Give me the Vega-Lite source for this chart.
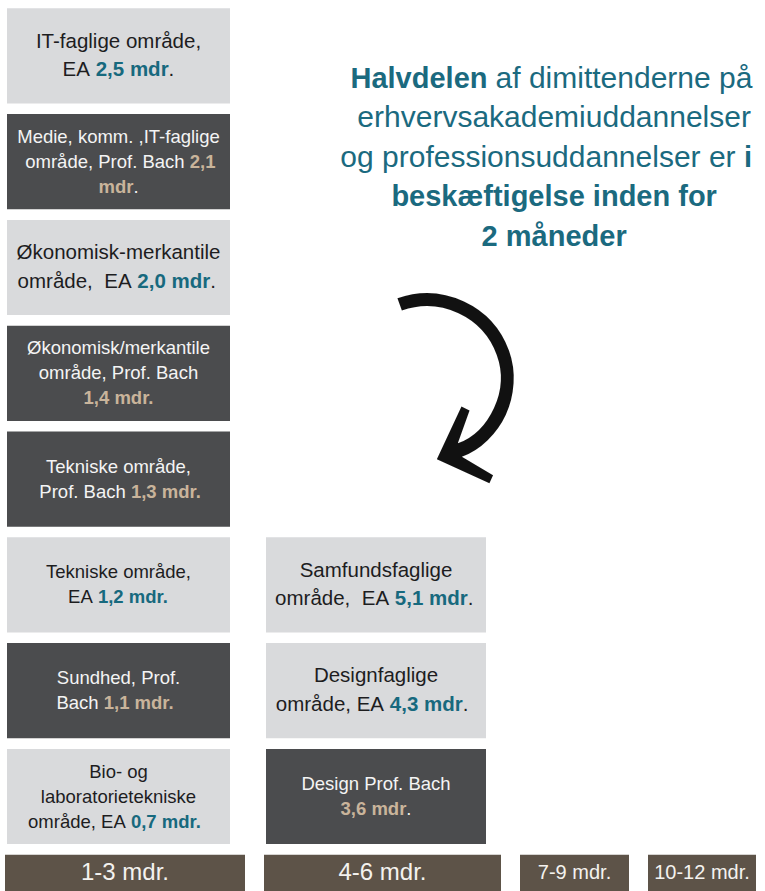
{
  "$schema": "https://vega.github.io/schema/vega-lite/v6.json",
  "width": 765,
  "height": 891,
  "autosize": {"type": "none"},
  "padding": 0,
  "background": "#ffffff",
  "config": {"view": {"stroke": null}, "font": "Liberation Sans", "text": {"font": "Liberation Sans"}},
  "datasets": {
    "lines": [
      {"id": "it_ea", "bin_start": 0, "bin_end": 3, "value": 2.5, "type": "EA", "k": 0, "n": 2, "pre": "IT-faglige område,", "num": "", "post": ""},
      {"id": "it_ea", "bin_start": 0, "bin_end": 3, "value": 2.5, "type": "EA", "k": 1, "n": 2, "pre": "EA", "num": "2,5 mdr", "post": "."},
      {"id": "medie_pb", "bin_start": 0, "bin_end": 3, "value": 2.1, "type": "Prof. Bach", "k": 0, "n": 3, "pre": "Medie, komm. ,IT-faglige", "num": "", "post": ""},
      {"id": "medie_pb", "bin_start": 0, "bin_end": 3, "value": 2.1, "type": "Prof. Bach", "k": 1, "n": 3, "pre": "område, Prof. Bach", "num": "2,1", "post": ""},
      {"id": "medie_pb", "bin_start": 0, "bin_end": 3, "value": 2.1, "type": "Prof. Bach", "k": 2, "n": 3, "pre": "", "num": "mdr", "post": "."},
      {"id": "oek_ea", "bin_start": 0, "bin_end": 3, "value": 2.0, "type": "EA", "k": 0, "n": 2, "pre": "Økonomisk-merkantile", "num": "", "post": ""},
      {"id": "oek_ea", "bin_start": 0, "bin_end": 3, "value": 2.0, "type": "EA", "k": 1, "n": 2, "pre": "område,\u00a0 EA", "num": "2,0 mdr", "post": "."},
      {"id": "oek_pb", "bin_start": 0, "bin_end": 3, "value": 1.4, "type": "Prof. Bach", "k": 0, "n": 3, "pre": "Økonomisk/merkantile", "num": "", "post": ""},
      {"id": "oek_pb", "bin_start": 0, "bin_end": 3, "value": 1.4, "type": "Prof. Bach", "k": 1, "n": 3, "pre": "område, Prof. Bach", "num": "", "post": ""},
      {"id": "oek_pb", "bin_start": 0, "bin_end": 3, "value": 1.4, "type": "Prof. Bach", "k": 2, "n": 3, "pre": "", "num": "1,4 mdr.", "post": ""},
      {"id": "tek_pb", "bin_start": 0, "bin_end": 3, "value": 1.3, "type": "Prof. Bach", "k": 0, "n": 2, "pre": "Tekniske område,", "num": "", "post": ""},
      {"id": "tek_pb", "bin_start": 0, "bin_end": 3, "value": 1.3, "type": "Prof. Bach", "k": 1, "n": 2, "pre": "Prof. Bach", "num": "1,3 mdr.", "post": ""},
      {"id": "tek_ea", "bin_start": 0, "bin_end": 3, "value": 1.2, "type": "EA", "k": 0, "n": 2, "pre": "Tekniske område,", "num": "", "post": ""},
      {"id": "tek_ea", "bin_start": 0, "bin_end": 3, "value": 1.2, "type": "EA", "k": 1, "n": 2, "pre": "EA", "num": "1,2 mdr.", "post": ""},
      {"id": "sund_pb", "bin_start": 0, "bin_end": 3, "value": 1.1, "type": "Prof. Bach", "k": 0, "n": 2, "pre": "Sundhed, Prof.", "num": "", "post": ""},
      {"id": "sund_pb", "bin_start": 0, "bin_end": 3, "value": 1.1, "type": "Prof. Bach", "k": 1, "n": 2, "pre": "Bach", "num": "1,1 mdr.", "post": ""},
      {"id": "bio_ea", "bin_start": 0, "bin_end": 3, "value": 0.7, "type": "EA", "k": 0, "n": 3, "pre": "Bio- og", "num": "", "post": ""},
      {"id": "bio_ea", "bin_start": 0, "bin_end": 3, "value": 0.7, "type": "EA", "k": 1, "n": 3, "pre": "laboratorietekniske", "num": "", "post": ""},
      {"id": "bio_ea", "bin_start": 0, "bin_end": 3, "value": 0.7, "type": "EA", "k": 2, "n": 3, "pre": "område, EA", "num": "0,7 mdr.", "post": ""},
      {"id": "samf_ea", "bin_start": 3, "bin_end": 6, "value": 5.1, "type": "EA", "k": 0, "n": 2, "pre": "Samfundsfaglige", "num": "", "post": ""},
      {"id": "samf_ea", "bin_start": 3, "bin_end": 6, "value": 5.1, "type": "EA", "k": 1, "n": 2, "pre": "område,\u00a0 EA", "num": "5,1 mdr", "post": "."},
      {"id": "design_ea", "bin_start": 3, "bin_end": 6, "value": 4.3, "type": "EA", "k": 0, "n": 2, "pre": "Designfaglige", "num": "", "post": ""},
      {"id": "design_ea", "bin_start": 3, "bin_end": 6, "value": 4.3, "type": "EA", "k": 1, "n": 2, "pre": "område, EA", "num": "4,3 mdr", "post": "."},
      {"id": "design_pb", "bin_start": 3, "bin_end": 6, "value": 3.6, "type": "Prof. Bach", "k": 0, "n": 2, "pre": "Design Prof. Bach", "num": "", "post": ""},
      {"id": "design_pb", "bin_start": 3, "bin_end": 6, "value": 3.6, "type": "Prof. Bach", "k": 1, "n": 2, "pre": "", "num": "3,6 mdr", "post": "."}
    ],
    "bins": [
      {"label": "1-3 mdr.", "bin_start": 0, "bin_end": 3},
      {"label": "4-6 mdr.", "bin_start": 3, "bin_end": 6},
      {"label": "7-9 mdr.", "bin_start": 6, "bin_end": 9},
      {"label": "10-12 mdr.", "bin_start": 9, "bin_end": 12}
    ],
    "headline": [
      {"k": 0, "pre": "", "num": "Halvdelen", "post": "af dimittenderne på"},
      {"k": 1, "pre": "erhvervsakademiuddannelser", "num": "", "post": ""},
      {"k": 2, "pre": "og professionsuddannelser er", "num": "i", "post": ""},
      {"k": 3, "pre": "", "num": "beskæftigelse inden for", "post": ""},
      {"k": 4, "pre": "", "num": "2 måneder", "post": ""}
    ]
  },
  "layer": [
    {
      "data": {"name": "lines"},
      "transform": [
        {"filter": "datum.k == 0"},
        {"window": [{"op": "dense_rank", "as": "rank"}], "groupby": ["bin_start"], "sort": [{"field": "value", "order": "ascending"}]}
      ],
      "mark": {"type": "rect", "xOffset": 2, "x2Offset": -34},
      "encoding": {
        "x": {"field": "bin_start", "type": "quantitative", "axis": null,
              "scale": {"domain": [0, 3, 6, 9, 12], "range": [5, 264, 520, 648, 775], "nice": false, "zero": false}},
        "x2": {"field": "bin_end"},
        "y": {"field": "rank", "type": "ordinal", "axis": null,
              "scale": {"type": "band", "domain": [8, 7, 6, 5, 4, 3, 2, 1, 0], "range": [3, 955.2], "paddingInner": 0.1, "paddingOuter": 0.05}},
        "fill": {"condition": {"test": "datum.type == 'EA'", "value": "#d9dadc"}, "value": "#4b4c4e"}
      }
    },
    {
      "data": {"name": "bins"},
      "mark": {"type": "rect", "x2Offset": -19, "clip": true, "color": "#5d5348"},
      "encoding": {
        "x": {"field": "bin_start", "type": "quantitative"},
        "x2": {"field": "bin_end"},
        "y": {"datum": 0, "type": "ordinal"}
      }
    },
    {
      "data": {"name": "bins"},
      "mark": {"type": "text", "align": "center", "baseline": "middle", "color": "#f4f2ef",
               "dx": {"expr": "(scale('x', datum.bin_end) - scale('x', datum.bin_start)) / 2 - 9.5"}},
      "encoding": {
        "x": {"field": "bin_start", "type": "quantitative"},
        "y": {"datum": 0, "type": "ordinal", "bandPosition": 0.19},
        "text": {"field": "label"},
        "size": {"condition": {"test": "datum.bin_start < 6", "value": 24}, "value": 20}
      }
    },
    {
      "data": {"name": "lines"},
      "transform": [
        {"window": [{"op": "dense_rank", "as": "rank"}], "groupby": ["bin_start"], "sort": [{"field": "value", "order": "ascending"}]},
        {"filter": "length(datum.pre) > 0"}
      ],
      "mark": {"type": "text", "baseline": "middle",
               "align": {"expr": "length(datum.num) == 0 && length(datum.post) == 0 ? 'center' : 'right'"},
               "dx": {"expr": "(scale('x', datum.bin_end) - scale('x', datum.bin_start)) / 2 - 16 + (length(datum.num) == 0 && length(datum.post) == 0 ? 0 : (indexof(['it_ea','oek_ea','samf_ea','design_ea'], datum.id) >= 0 ? 20.5 : 18.5) * ((0.49 * length(datum.pre) + (datum.pre == 'EA' ? 0.35 : 0)) - (length(datum.pre) > 0 && length(datum.num) > 0 ? 0.28 : 0) - ((indexof(datum.num, ',') >= 0 ? 1.39 : 0) + (indexof(datum.num, 'mdr') >= 0 ? 1.889 : 0) + (indexof(datum.num, ' ') >= 0 ? 0.278 : 0) + (indexof(datum.num, '.') >= 0 ? 0.278 : 0)) - 0.278 * length(datum.post)) / 2)"},
               "dy": {"expr": "(datum.k - (datum.n - 1) / 2) * (indexof(['it_ea','oek_ea','samf_ea','design_ea'], datum.id) >= 0 ? 28.5 : 25)"}},
      "encoding": {
        "x": {"field": "bin_start", "type": "quantitative"},
        "y": {"field": "rank", "type": "ordinal"},
        "text": {"field": "pre"},
        "size": {"condition": {"test": "indexof(['it_ea','oek_ea','samf_ea','design_ea'], datum.id) >= 0", "value": 20.5}, "value": 18.5},
        "color": {"condition": {"test": "datum.type == 'EA'", "value": "#1d1d1f"}, "value": "#f4f4f4"}
      }
    },
    {
      "data": {"name": "lines"},
      "transform": [
        {"window": [{"op": "dense_rank", "as": "rank"}], "groupby": ["bin_start"], "sort": [{"field": "value", "order": "ascending"}]},
        {"filter": "length(datum.num) > 0"}
      ],
      "mark": {"type": "text", "baseline": "middle", "fontWeight": "bold",
               "align": {"expr": "length(datum.pre) == 0 && length(datum.post) == 0 ? 'center' : 'left'"},
               "dx": {"expr": "(scale('x', datum.bin_end) - scale('x', datum.bin_start)) / 2 - 16 + (length(datum.pre) == 0 && length(datum.post) == 0 ? 0 : (indexof(['it_ea','oek_ea','samf_ea','design_ea'], datum.id) >= 0 ? 20.5 : 18.5) * ((0.49 * length(datum.pre) + (datum.pre == 'EA' ? 0.35 : 0)) + (length(datum.pre) > 0 && length(datum.num) > 0 ? 0.28 : 0) - ((indexof(datum.num, ',') >= 0 ? 1.39 : 0) + (indexof(datum.num, 'mdr') >= 0 ? 1.889 : 0) + (indexof(datum.num, ' ') >= 0 ? 0.278 : 0) + (indexof(datum.num, '.') >= 0 ? 0.278 : 0)) - 0.278 * length(datum.post)) / 2)"},
               "dy": {"expr": "(datum.k - (datum.n - 1) / 2) * (indexof(['it_ea','oek_ea','samf_ea','design_ea'], datum.id) >= 0 ? 28.5 : 25)"}},
      "encoding": {
        "x": {"field": "bin_start", "type": "quantitative"},
        "y": {"field": "rank", "type": "ordinal"},
        "text": {"field": "num"},
        "size": {"condition": {"test": "indexof(['it_ea','oek_ea','samf_ea','design_ea'], datum.id) >= 0", "value": 20.5}, "value": 18.5},
        "color": {"condition": {"test": "datum.type == 'EA'", "value": "#17697e"}, "value": "#c9b49b"}
      }
    },
    {
      "data": {"name": "lines"},
      "transform": [
        {"window": [{"op": "dense_rank", "as": "rank"}], "groupby": ["bin_start"], "sort": [{"field": "value", "order": "ascending"}]},
        {"filter": "length(datum.post) > 0"}
      ],
      "mark": {"type": "text", "align": "left", "baseline": "middle",
               "dx": {"expr": "(scale('x', datum.bin_end) - scale('x', datum.bin_start)) / 2 - 16 + (indexof(['it_ea','oek_ea','samf_ea','design_ea'], datum.id) >= 0 ? 20.5 : 18.5) * ((0.49 * length(datum.pre) + (datum.pre == 'EA' ? 0.35 : 0)) + (length(datum.pre) > 0 && length(datum.num) > 0 ? 0.28 : 0) + ((indexof(datum.num, ',') >= 0 ? 1.39 : 0) + (indexof(datum.num, 'mdr') >= 0 ? 1.889 : 0) + (indexof(datum.num, ' ') >= 0 ? 0.278 : 0) + (indexof(datum.num, '.') >= 0 ? 0.278 : 0)) - 0.278 * length(datum.post)) / 2"},
               "dy": {"expr": "(datum.k - (datum.n - 1) / 2) * (indexof(['it_ea','oek_ea','samf_ea','design_ea'], datum.id) >= 0 ? 28.5 : 25)"}},
      "encoding": {
        "x": {"field": "bin_start", "type": "quantitative"},
        "y": {"field": "rank", "type": "ordinal"},
        "text": {"field": "post"},
        "size": {"condition": {"test": "indexof(['it_ea','oek_ea','samf_ea','design_ea'], datum.id) >= 0", "value": 20.5}, "value": 18.5},
        "color": {"condition": {"test": "datum.type == 'EA'", "value": "#1d1d1f"}, "value": "#f4f4f4"}
      }
    },
    {
      "data": {"name": "headline"},
      "transform": [{"filter": "length(datum.pre) > 0"}],
      "mark": {"type": "text", "baseline": "middle", "fontSize": 30, "color": "#1b6a7f",
               "align": {"expr": "length(datum.num) == 0 && length(datum.post) == 0 ? 'center' : 'right'"},
               "dx": {"expr": "length(datum.num) == 0 && length(datum.post) == 0 ? 0 : (13.8 * length(datum.pre) - (length(datum.pre) > 0 && length(datum.num) > 0 ? 8.3 : 0) - 15.2 * length(datum.num) - (length(datum.num) > 0 && length(datum.post) > 0 ? 8.3 : 0) - 13.8 * length(datum.post)) / 2"},
               "dy": {"expr": "(datum.k - 2) * 39.5"}},
      "encoding": {
        "x": {"datum": 6.8, "type": "quantitative"},
        "y": {"datum": 7, "type": "ordinal", "bandPosition": 0.46},
        "text": {"field": "pre"}
      }
    },
    {
      "data": {"name": "headline"},
      "transform": [{"filter": "length(datum.num) > 0"}],
      "mark": {"type": "text", "baseline": "middle", "fontSize": 29, "fontWeight": "bold", "color": "#1b6a7f",
               "align": {"expr": "length(datum.pre) == 0 && length(datum.post) == 0 ? 'center' : 'left'"},
               "dx": {"expr": "length(datum.pre) == 0 && length(datum.post) == 0 ? 0 : (13.8 * length(datum.pre) + (length(datum.pre) > 0 && length(datum.num) > 0 ? 8.3 : 0) - 15.2 * length(datum.num) - (length(datum.num) > 0 && length(datum.post) > 0 ? 8.3 : 0) - 13.8 * length(datum.post)) / 2"},
               "dy": {"expr": "(datum.k - 2) * 39.5"}},
      "encoding": {
        "x": {"datum": 6.8, "type": "quantitative"},
        "y": {"datum": 7, "type": "ordinal", "bandPosition": 0.46},
        "text": {"field": "num"}
      }
    },
    {
      "data": {"name": "headline"},
      "transform": [{"filter": "length(datum.post) > 0"}],
      "mark": {"type": "text", "align": "left", "baseline": "middle", "fontSize": 30, "color": "#1b6a7f",
               "dx": {"expr": "(13.8 * length(datum.pre) + (length(datum.pre) > 0 && length(datum.num) > 0 ? 8.3 : 0) + 15.2 * length(datum.num) + (length(datum.num) > 0 && length(datum.post) > 0 ? 8.3 : 0) - 13.8 * length(datum.post)) / 2"},
               "dy": {"expr": "(datum.k - 2) * 39.5"}},
      "encoding": {
        "x": {"datum": 6.8, "type": "quantitative"},
        "y": {"datum": 7, "type": "ordinal", "bandPosition": 0.46},
        "text": {"field": "post"}
      }
    },
    {
      "data": {"values": [{"note": "arrow"}]},
      "mark": {"type": "text", "align": "center", "baseline": "middle", "font": "'DejaVu Sans ExtraLight', 'DejaVu Sans'", "fontSize": 200, "color": "#111111", "angle": -20},
      "encoding": {
        "x": {"datum": 5.35, "type": "quantitative"},
        "y": {"datum": 5, "type": "ordinal", "bandPosition": 0.57},
        "text": {"value": "⤸"}
      }
    }
  ]
}
